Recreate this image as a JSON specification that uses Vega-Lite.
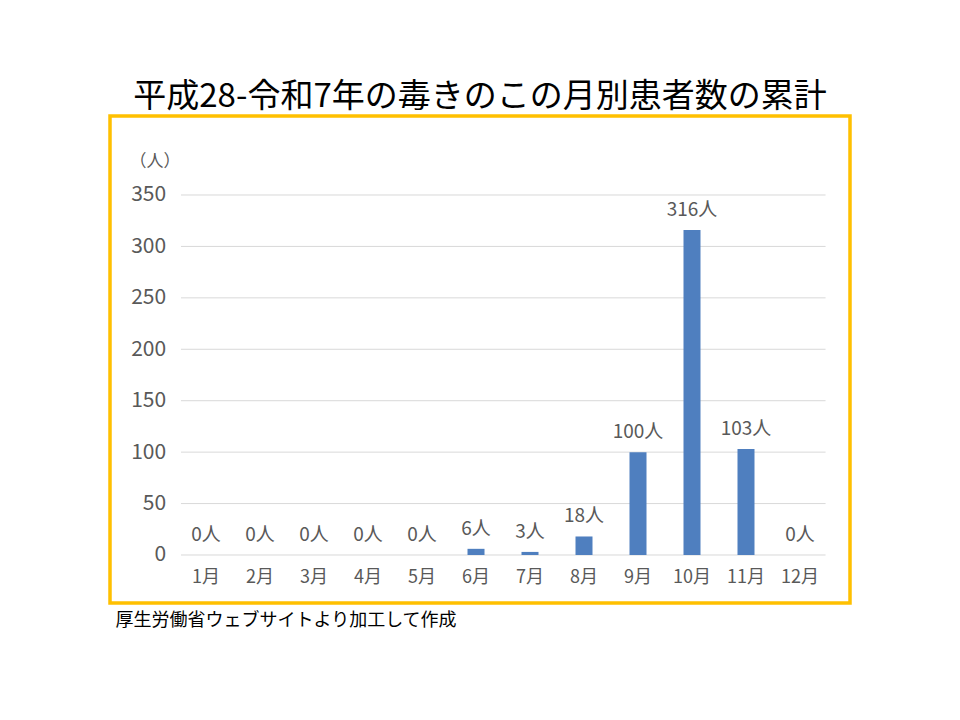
{
  "$schema": "https://vega.github.io/schema/vega-lite/v6.json",
  "width": 740,
  "height": 487,
  "autosize": {"type": "none"},
  "padding": {"left": 110, "top": 116, "right": 110, "bottom": 117},
  "background": "white",
  "config": {
    "font": "Noto Sans CJK JP",
    "view": {"stroke": "#FFC000", "strokeWidth": 3.5}
  },
  "title": {
    "text": "平成28-令和7年の毒きのこの月別患者数の累計",
    "fontSize": 33,
    "fontWeight": "normal",
    "color": "#000000",
    "anchor": "middle",
    "offset": 2,
    "font": "Noto Sans CJK JP"
  },
  "datasets": {
    "months": [
      {"month": "1月", "count": 0, "label": "0人"},
      {"month": "2月", "count": 0, "label": "0人"},
      {"month": "3月", "count": 0, "label": "0人"},
      {"month": "4月", "count": 0, "label": "0人"},
      {"month": "5月", "count": 0, "label": "0人"},
      {"month": "6月", "count": 6, "label": "6人"},
      {"month": "7月", "count": 3, "label": "3人"},
      {"month": "8月", "count": 18, "label": "18人"},
      {"month": "9月", "count": 100, "label": "100人"},
      {"month": "10月", "count": 316, "label": "316人"},
      {"month": "11月", "count": 103, "label": "103人"},
      {"month": "12月", "count": 0, "label": "0人"}
    ],
    "grid": [
      {"tick": 0}, {"tick": 50}, {"tick": 100}, {"tick": 150},
      {"tick": 200}, {"tick": 250}, {"tick": 300}, {"tick": 350}
    ]
  },
  "layer": [
    {
      "data": {"name": "grid"},
      "mark": {"type": "rule", "color": "#D9D9D9", "strokeWidth": 1},
      "encoding": {
        "y": {
          "field": "tick", "type": "quantitative",
          "scale": {"domain": [-46.67, 426.8], "nice": false, "zero": false},
          "axis": {
            "values": [0, 50, 100, 150, 200, 250, 300, 350],
            "offset": -70.6, "domain": false, "ticks": false, "grid": false,
            "labelPadding": 15, "labelFontSize": 21, "labelColor": "#595959",
            "title": "（人）", "titleAngle": 0, "titleAlign": "center", "titleBaseline": "middle",
            "titleX": -26, "titleY": 45, "titleFontSize": 17, "titleFontWeight": "normal", "titleColor": "#595959"
          }
        },
        "x": {"datum": 0, "type": "quantitative", "scale": {"domain": [-0.1101, 1.0379], "nice": false, "zero": false}, "axis": null},
        "x2": {"datum": 1}
      }
    },
    {
      "data": {"name": "months"},
      "layer": [
        {
          "mark": {"type": "bar", "color": "#4F7FBF", "width": 17},
          "encoding": {
            "x": {
              "field": "month", "type": "nominal", "sort": null,
              "scale": {"paddingInner": 0, "paddingOuter": 0.852, "align": 0.75, "round": false},
              "axis": {
                "orient": "bottom", "offset": -48, "domain": false, "ticks": false,
                "labelPadding": 13, "labelFontSize": 18, "labelColor": "#595959", "labelAngle": 0,
                "title": "厚生労働省ウェブサイトより加工して作成",
                "titleAnchor": "start", "titleAlign": "left", "titleX": 5, "titleY": 65,
                "titleBaseline": "middle", "titleFontSize": 18, "titleFontWeight": "normal", "titleColor": "#000000"
              }
            },
            "y": {"field": "count", "type": "quantitative"}
          }
        },
        {
          "mark": {"type": "text", "baseline": "alphabetic", "dy": -14, "fontSize": 19, "color": "#595959"},
          "encoding": {
            "x": {"field": "month", "type": "nominal", "sort": null},
            "y": {"field": "count", "type": "quantitative"},
            "text": {"field": "label"}
          }
        }
      ]
    }
  ],
  "resolve": {"scale": {"x": "independent"}}
}
